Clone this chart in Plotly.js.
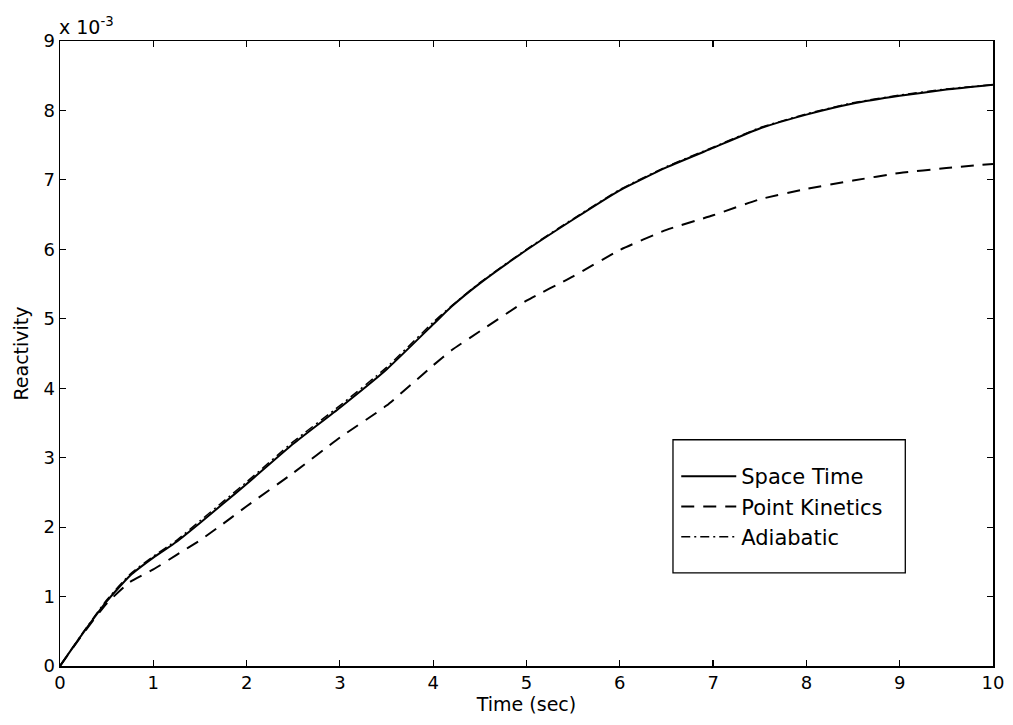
<!DOCTYPE html>
<html>
<head>
<meta charset="utf-8">
<script src="https://cdn.plot.ly/plotly-3.0.1.min.js"></script>
<style>html,body{margin:0;padding:0;background:#fff;}#chart{width:1013px;height:725px;}</style>
</head>
<body>
<div id="chart"></div>
<script>
// Time (sec)
var timeSec = [0, 0.25, 0.5, 0.75, 1.0, 1.25, 1.5, 1.75, 2.0, 2.5, 3.0, 3.5, 4.0, 4.2, 4.5, 5.0, 5.5, 6.0, 6.5, 7.0, 7.5, 8.0, 8.5, 9.0, 9.5, 10.0];
// Reactivity values in units of 1e-3
var spaceTime = [0, 0.48, 0.93, 1.30, 1.56, 1.79, 2.06, 2.34, 2.62, 3.20, 3.72, 4.27, 4.92, 5.18, 5.51, 5.99, 6.43, 6.85, 7.18, 7.46, 7.74, 7.94, 8.10, 8.21, 8.30, 8.37];
var pointKinetics = [0, 0.47, 0.90, 1.21, 1.39, 1.60, 1.81, 2.05, 2.30, 2.78, 3.29, 3.75, 4.33, 4.55, 4.82, 5.26, 5.61, 5.99, 6.28, 6.49, 6.72, 6.87, 6.99, 7.10, 7.17, 7.23];
var adiabatic = [0, 0.49, 0.95, 1.32, 1.58, 1.81, 2.09, 2.37, 2.65, 3.23, 3.75, 4.30, 4.95, 5.19, 5.52, 6.00, 6.44, 6.86, 7.19, 7.47, 7.75, 7.95, 8.11, 8.22, 8.31, 8.37];
var yTicks = [0,1,2,3,4,5,6,7,8,9];
var xTicks = [0,1,2,3,4,5,6,7,8,9,10];

var fam = 'DejaVu Sans, Liberation Sans, Arial, sans-serif';
var tickFont = {family: fam, size: 18, color: '#000'};
var titleFont = {family: fam, size: 19, color: '#000'};
var legendFont = {family: fam, size: 21, color: '#000'};

var traces = [
  {x: timeSec, y: spaceTime, name: 'Space Time', mode: 'lines', line: {color: '#000', width: 2, shape: 'spline', smoothing: 0.5}, legendgroup: 'a'},
  {x: timeSec, y: pointKinetics, name: 'Point Kinetics', mode: 'lines', line: {color: '#000', width: 2, dash: '13px,9px', shape: 'spline', smoothing: 0.5}, legendgroup: 'b'},
  {x: timeSec, y: adiabatic, name: 'Adiabatic', mode: 'lines', line: {color: '#000', width: 1.5, dash: '9px,4px,2px,4px', shape: 'spline', smoothing: 0.5}, legendgroup: 'c'}
];

var axisCommon = {
  showline: true, linecolor: '#000', linewidth: 1.5, mirror: 'ticks',
  ticks: 'inside', ticklen: 6, tickwidth: 1.2, tickcolor: '#000',
  showgrid: false, zeroline: false, tickfont: tickFont
};

var layout = {
  width: 1013, height: 725,
  margin: {l: 60, r: 20, t: 41, b: 59},
  paper_bgcolor: '#fff', plot_bgcolor: '#fff',
  font: tickFont,
  xaxis: Object.assign({}, axisCommon, {range: [0, 10], tickvals: xTicks, ticktext: xTicks.map(String),
    title: {text: 'Time (sec)', font: titleFont, standoff: 0}}),
  yaxis: Object.assign({}, axisCommon, {range: [0, 9], tickvals: yTicks, ticktext: yTicks.map(String),
    title: {text: 'Reactivity', font: titleFont, standoff: 10}}),
  showlegend: true,
  legend: {x: 0.6605, y: 0.336, xanchor: 'left', yanchor: 'top', bgcolor: 'rgba(0,0,0,0)',
    borderwidth: 0, font: legendFont, tracegroupgap: 6, traceorder: 'normal', itemwidth: 55},
  shapes: [{type: 'rect', xref: 'paper', yref: 'paper', x0: 0.657, x1: 0.906, y0: 0.149, y1: 0.362,
    line: {color: '#000', width: 1.3}, fillcolor: 'rgba(255,255,255,0)', layer: 'above'}],
  annotations: [{xref: 'paper', yref: 'paper', x: 0, y: 1, xanchor: 'left', yanchor: 'bottom', xshift: -3, yshift: 1,
    showarrow: false, text: 'x 10<sup>-3</sup>', font: titleFont}]
};

Plotly.newPlot('chart', traces, layout, {displayModeBar: false, staticPlot: true});
</script>
</body>
</html>
